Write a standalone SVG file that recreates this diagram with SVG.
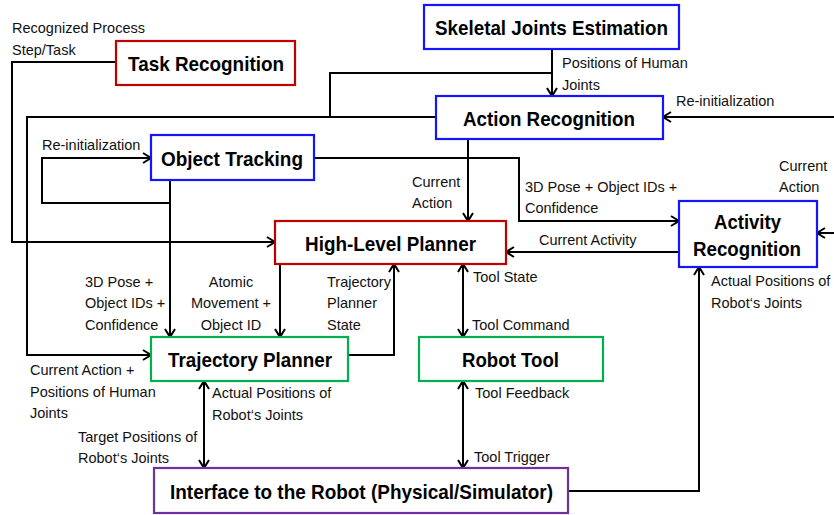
<svg xmlns="http://www.w3.org/2000/svg" width="834" height="515" viewBox="0 0 834 515">
<defs>
<marker id="arr" markerUnits="userSpaceOnUse" markerWidth="12" markerHeight="12" viewBox="0 0 12 12" refX="10" refY="6" orient="auto-start-reverse">
<path d="M2,1 L10,6 L2,11" fill="none" stroke="#000" stroke-width="2"/>
</marker>
<style>
.box{fill:#fff;stroke-width:2.2}
.red{stroke:#c00000}
.blue{stroke:#1414ff}
.green{stroke:#00b050}
.purple{stroke:#7030a0}
.t{font-family:"Liberation Sans",Arial,sans-serif;font-weight:bold;font-size:21px;fill:#000}
.l{font-family:"Liberation Sans",Arial,sans-serif;font-size:14.5px;fill:#111}
.c{fill:none;stroke:#000;stroke-width:2}
.a{marker-end:url(#arr)}
.d{marker-start:url(#arr);marker-end:url(#arr)}
</style>
</defs>
<rect width="834" height="515" fill="#fff"/>
<g id="connectors">
<path class="c a" d="M116,62 H12 V242 H275"/>
<path class="c a" d="M436,117 H27 V355 H151"/>
<path class="c" d="M330,117 V73 H552"/>
<path class="c a" d="M552,49 V96"/>
<path class="c a" d="M834,117 H663"/>
<path class="c a" d="M834,233 H817"/>
<path class="c a" d="M170,180 V203 H42 V158 H151"/>
<path class="c a" d="M170,180 V337"/>
<path class="c a" d="M314,158 H519 V221 H679"/>
<path class="c a" d="M468,139 V221"/>
<path class="c a" d="M679,252 H506"/>
<path class="c a" d="M280,264 V337"/>
<path class="c a" d="M348,355 H394 V264"/>
<path class="c d" d="M463,264 V337"/>
<path class="c d" d="M463,381 V468"/>
<path class="c d" d="M204,381 V468"/>
<path class="c a" d="M568,491 H699 V267"/>
</g>
<g id="labels">
<text class="l" x="12" y="33">Recognized Process</text>
<text class="l" x="12" y="55">Step/Task</text>
<text class="l" x="42" y="150">Re-initialization</text>
<text class="l" x="562" y="68">Positions of Human</text>
<text class="l" x="562" y="90">Joints</text>
<text class="l" x="676" y="106">Re-initialization</text>
<text class="l" x="779" y="171">Current</text>
<text class="l" x="779" y="192">Action</text>
<text class="l" x="412" y="187">Current</text>
<text class="l" x="412" y="208">Action</text>
<text class="l" x="525" y="192">3D Pose + Object IDs +</text>
<text class="l" x="525" y="213">Confidence</text>
<text class="l" x="539" y="245">Current Activity</text>
<text class="l" x="473" y="282">Tool State</text>
<text class="l" x="472" y="330">Tool Command</text>
<text class="l" x="711" y="286">Actual Positions of</text>
<text class="l" x="711" y="308">Robot‘s Joints</text>
<text class="l" x="85" y="287">3D Pose +</text>
<text class="l" x="85" y="308">Object IDs +</text>
<text class="l" x="85" y="330">Confidence</text>
<text class="l" x="231" y="287" text-anchor="middle">Atomic</text>
<text class="l" x="231" y="308" text-anchor="middle">Movement +</text>
<text class="l" x="231" y="330" text-anchor="middle">Object ID</text>
<text class="l" x="327" y="287">Trajectory</text>
<text class="l" x="327" y="308">Planner</text>
<text class="l" x="327" y="330">State</text>
<text class="l" x="30" y="375">Current Action +</text>
<text class="l" x="30" y="397">Positions of Human</text>
<text class="l" x="30" y="418">Joints</text>
<text class="l" x="212" y="398">Actual Positions of</text>
<text class="l" x="212" y="420">Robot‘s Joints</text>
<text class="l" x="78" y="442">Target Positions of</text>
<text class="l" x="78" y="463">Robot‘s Joints</text>
<text class="l" x="475" y="398">Tool Feedback</text>
<text class="l" x="474" y="462">Tool Trigger</text>
</g>
<g id="task-recognition">
<rect class="box red" x="116" y="41" width="179" height="44"/>
<text class="t" x="128" y="71" textLength="156" lengthAdjust="spacingAndGlyphs">Task Recognition</text>
</g>
<g id="skeletal-joints-estimation">
<rect class="box blue" x="424" y="5" width="255" height="44"/>
<text class="t" x="435" y="35" textLength="233" lengthAdjust="spacingAndGlyphs">Skeletal Joints Estimation</text>
</g>
<g id="action-recognition">
<rect class="box blue" x="436" y="96" width="227" height="43"/>
<text class="t" x="463" y="126" textLength="172" lengthAdjust="spacingAndGlyphs">Action Recognition</text>
</g>
<g id="object-tracking">
<rect class="box blue" x="151" y="135" width="163" height="45"/>
<text class="t" x="161" y="166" textLength="142" lengthAdjust="spacingAndGlyphs">Object Tracking</text>
</g>
<g id="high-level-planner">
<rect class="box red" x="275" y="221" width="231" height="43"/>
<text class="t" x="305" y="251" textLength="171" lengthAdjust="spacingAndGlyphs">High-Level Planner</text>
</g>
<g id="activity-recognition">
<rect class="box blue" x="679" y="201" width="138" height="66"/>
<text class="t" x="714" y="229" textLength="67" lengthAdjust="spacingAndGlyphs">Activity</text>
<text class="t" x="693" y="256" textLength="108" lengthAdjust="spacingAndGlyphs">Recognition</text>
</g>
<g id="trajectory-planner">
<rect class="box green" x="151" y="337" width="197" height="44"/>
<text class="t" x="168" y="367" textLength="164" lengthAdjust="spacingAndGlyphs">Trajectory Planner</text>
</g>
<g id="robot-tool">
<rect class="box green" x="419" y="337" width="184" height="44"/>
<text class="t" x="462" y="367" textLength="97" lengthAdjust="spacingAndGlyphs">Robot Tool</text>
</g>
<g id="interface-to-robot">
<rect class="box purple" x="154" y="468" width="414" height="45"/>
<text class="t" x="170" y="499" textLength="383" lengthAdjust="spacingAndGlyphs">Interface to the Robot (Physical/Simulator)</text>
</g>
</svg>
